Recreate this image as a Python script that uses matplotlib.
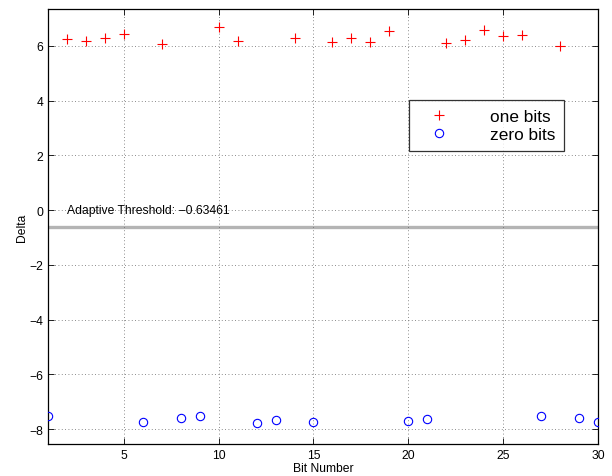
import numpy as np
import matplotlib
matplotlib.use("Agg")
import matplotlib.pyplot as plt

plt.rcParams["font.family"] = ["Liberation Sans", "DejaVu Sans"]

# bit positions and measured deltas
one_bits_x = [2, 3, 4, 5, 7, 10, 11, 14, 16, 17, 18, 19, 22, 23, 24, 25, 26, 28]
one_bits_y = [6.24, 6.16, 6.27, 6.44, 6.06, 6.67, 6.18, 6.27, 6.15, 6.28, 6.15,
              6.52, 6.11, 6.20, 6.58, 6.36, 6.40, 5.99]
zero_bits_x = [1, 6, 8, 9, 12, 13, 15, 20, 21, 27, 29, 30]
zero_bits_y = [-7.53, -7.72, -7.59, -7.51, -7.76, -7.67, -7.72, -7.69, -7.64,
               -7.51, -7.58, -7.72]
threshold = -0.63461

FS = 8.7

fig = plt.figure(figsize=(6.12, 4.77), dpi=100)
ax = fig.add_axes([0.0784, 0.067, 0.8986, 0.912])

ax.axhline(threshold, color="#b4b4b4", lw=2.4, zorder=1)
ax.plot(one_bits_x, one_bits_y, "+", color="red", ms=6.5, mew=0.8,
        label="one bits", zorder=3)
ax.plot(zero_bits_x, zero_bits_y, "o", mfc="none", mec="blue", ms=6, mew=0.8,
        label="zero bits", zorder=3)

ax.text(2, 0, f"Adaptive Threshold: \u2212{abs(threshold):.5f}", fontsize=FS,
        va="center", ha="left")

ax.set_xlim(1, 30)
ax.set_ylim(-8.54, 7.34)
ax.set_xticks([5, 10, 15, 20, 25, 30])
ax.set_yticks([-8, -6, -4, -2, 0, 2, 4, 6])
ax.set_yticklabels(["\u22128", "\u22126", "\u22124", "\u22122", "0", "2", "4", "6"])
ax.tick_params(direction="in", length=4, width=0.6, labelsize=FS,
               top=True, right=True)
ax.grid(True, linestyle=(0, (1, 3)), color="0.4", lw=0.6)
for s in ax.spines.values():
    s.set_linewidth(0.9)

ax.set_xlabel("Bit Number", fontsize=FS, labelpad=1)
ax.set_ylabel("Delta", fontsize=FS, labelpad=1)

leg = ax.legend(loc="upper left", bbox_to_anchor=(0.656, 0.791), fontsize=12.4,
                frameon=True, fancybox=False, edgecolor="black",
                handletextpad=1.7, handlelength=2.5, borderpad=0.5,
                labelspacing=0.2, borderaxespad=0)
leg.get_frame().set_linewidth(0.9)

fig.savefig("out.png", dpi=100)
